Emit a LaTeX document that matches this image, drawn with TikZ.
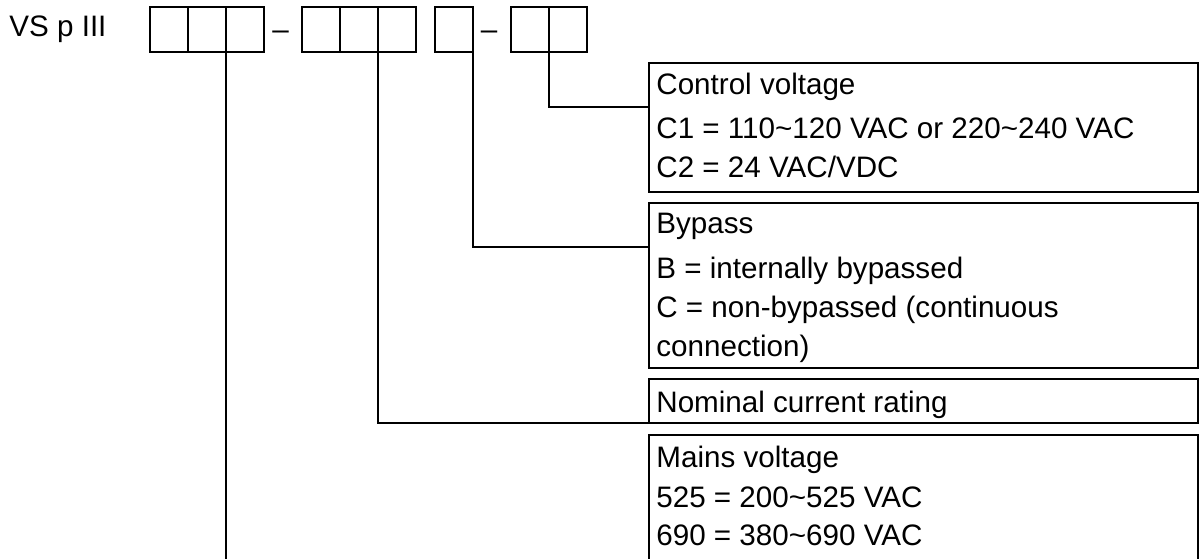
\documentclass[tikz,border=0pt]{standalone}
\usepackage{fontspec}
\setmainfont{Liberation Sans}
\usetikzlibrary{positioning}

\tikzset{
  cell/.style={draw, minimum width=38pt, minimum height=45pt, inner sep=0pt, outer sep=0pt},
  infobox/.style={draw, anchor=north west, minimum width=549pt, inner sep=0pt, outer sep=0pt},
  infotext/.style={anchor=base west, inner sep=0pt}
}

\begin{document}
\begin{tikzpicture}[
        x=1pt, y=-1pt,
        line width=2.8pt,
        font=\fontsize{29.6}{35}\selectfont
    ]
    \clip (0,0) rectangle (1202,558);
    \node[infotext] (model) at (8,36) {VS p III};
    % code boxes
    \node[cell, anchor=north west] (a1) at (150,7) {};
    \node[cell, right=0pt of a1] (a2) {};
    \node[cell, right=0pt of a2] (a3) {};
    \node[cell, right=38pt of a3] (b1) {};
    \node[cell, right=0pt of b1] (b2) {};
    \node[cell, right=0pt of b2] (b3) {};
    \node[cell, right=19pt of b3] (c1) {};
    \node[cell, right=38pt of c1] (d1) {};
    \node[cell, right=0pt of d1] (d2) {};
    \node[infotext, anchor=base] (dashA) at (280.5,39) {–};
    \node[infotext, anchor=base] (dashB) at (489,39) {–};
    % description boxes
    \node[infobox, minimum height=129pt] (ctrl) at (649,63) {};
    \node[infobox, minimum height=165pt] (byp) at (649,203) {};
    \node[infobox, minimum height=44pt] (nom) at (649,379) {};
    \node[infobox, minimum height=200pt] (mains) at (649,435) {};
    \node[infotext] (ctrlA) at (655,94) {Control voltage};
    \node[infotext] (ctrlB) at (655,138) {C1 = 110\textasciitilde120 VAC or 220\textasciitilde240 VAC};
    \node[infotext] (ctrlC) at (655,177) {C2 = 24 VAC/VDC};
    \node[infotext] (bypA) at (655,233) {Bypass};
    \node[infotext] (bypB) at (655,278) {B = internally bypassed};
    \node[infotext] (bypC) at (655,317) {C = non-bypassed (continuous};
    \node[infotext] (bypD) at (655,356) {connection)};
    \node[infotext] (nomA) at (655,412) {Nominal current rating};
    \node[infotext] (mainsA) at (655,467) {Mains voltage};
    \node[infotext] (mainsB) at (655,507) {525 = 200\textasciitilde525 VAC};
    \node[infotext] (mainsC) at (655,545) {690 = 380\textasciitilde690 VAC};
    % connectors
    \draw (d2.south west) |- ([yshift=-44pt]ctrl.north west);
    \draw (c1.south east) |- ([yshift=-44pt]byp.north west);
    \draw (b3.south west) |- (nom.south west);
    \draw (a3.south west) |- (mains.south west);
\end{tikzpicture}
\end{document}
